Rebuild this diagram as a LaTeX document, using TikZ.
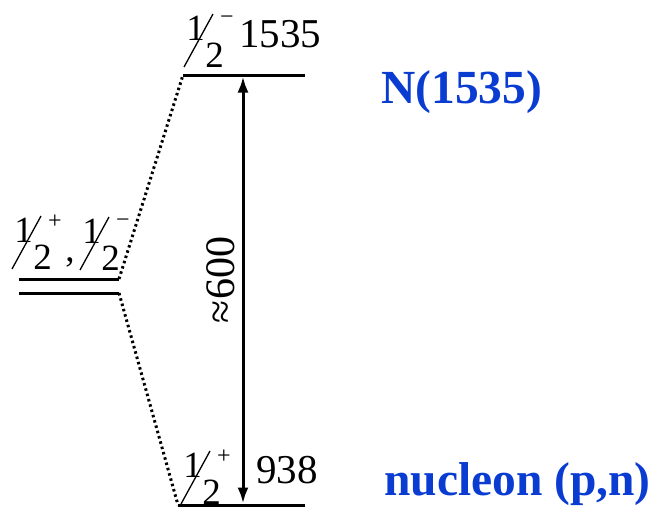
\documentclass[tikz,border=0pt]{standalone}
\usepackage{fontspec}
\setmainfont{Liberation Serif}
\usetikzlibrary{arrows.meta}
\definecolor{lblblue}{RGB}{10,60,210}
\tikzset{
  lvl/.style={line width=3pt},
  dotl/.style={line width=3pt, dash pattern=on 2.5pt off 3pt},
  gaparrow/.style={line width=3pt, {Latex[length=16pt,width=11pt]}-{Latex[length=16pt,width=11pt]}},
  val/.style={inner sep=0pt, anchor=base west, font=\fontsize{41}{41}\selectfont},
  stname/.style={inner sep=0pt, anchor=base west, text=lblblue, font=\fontsize{47.5}{47.5}\selectfont\bfseries},
  fracdig/.style={inner sep=0pt, anchor=base, font=\fontsize{37}{37}\selectfont},
  fracsign/.style={inner sep=0pt, font=\fontsize{24}{24}\selectfont},
  slashline/.style={line width=1.3pt},
  pics/halfsl/.style={code={
    \draw[slashline] (0,1) -- (29,-52);
    \node[fracdig] (num) at (11.5,-26) {1};
    \node[fracdig] (den) at (30.5,1) {2};
    \node[fracsign] (sgn) at (43,-46) {#1};
  }}
}
\begin{document}
\begin{tikzpicture}[x=1pt,y=-1pt]
\useasboundingbox (0,0) rectangle (656,507);
% level end points
\coordinate (tl) at (183,75);
\coordinate (tr) at (305,75);
\coordinate (bl) at (178,505);
\coordinate (br) at (305,505);
\coordinate (ul) at (19,279);
\coordinate (ur) at (119,279);
\coordinate (ll) at (19,293);
\coordinate (lr) at (119,293);
\coordinate (atop) at (243,76.5);
\coordinate (abot) at (243,503.5);
% levels
\draw[lvl] (tl) -- (tr);
\draw[lvl] (bl) -- (br);
\draw[lvl] (ul) -- (ur);
\draw[lvl] (ll) -- (lr);
% dotted connectors
\draw[dotl] (ur) -- (tl);
\draw[dotl] (lr) -- (bl);
% gap arrow
\draw[gaparrow] (atop) -- (abot);
\node[inner sep=0pt, rotate=90, anchor=base, font=\fontsize{42}{42}\selectfont] (gap) at (234,280) {≈600};
% fractions
\pic (ftop) at (184,66) {halfsl=−};
\pic (fleft1) at (12,268) {halfsl=+};
\node[fracdig] (comma) at (70,261) {,};
\pic (fleft2) at (80,269) {halfsl=−};
\pic (fbot) at (181,503) {halfsl=+};
% values
\node[val] (v1535) at (239,47) {1535};
\node[val] (v938) at (256,483) {938};
% state names
\node[stname] (nstar) at (381,103) {N(1535)};
\node[stname] (nucl) at (384,495) {nucleon (p,n)};
\end{tikzpicture}
\end{document}
